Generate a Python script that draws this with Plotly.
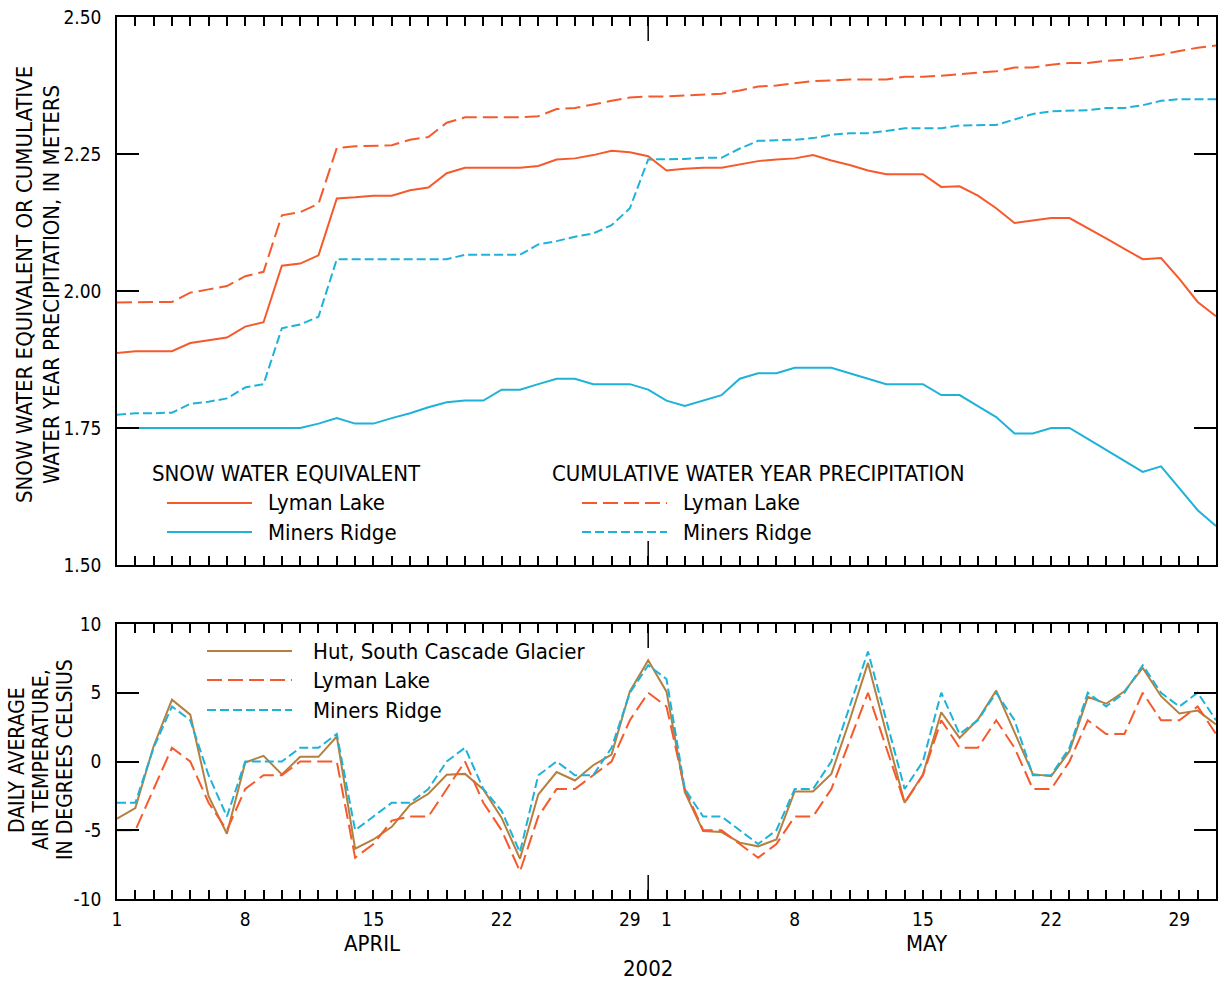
import plotly.graph_objects as go
import pandas as pd

# ---------------- data ----------------
dates = [d.strftime("%Y-%m-%d") for d in pd.date_range("2002-04-01", "2002-05-31", freq="D")]

swe_lyman = [1.887, 1.890, 1.890, 1.890, 1.905, 1.910, 1.915, 1.935, 1.943, 2.046,
             2.050, 2.065, 2.169, 2.171, 2.174, 2.174, 2.184, 2.189, 2.215, 2.225,
             2.225, 2.225, 2.225, 2.228, 2.240, 2.242, 2.248, 2.256, 2.253, 2.246,
             2.220, 2.223, 2.225, 2.225, 2.231, 2.237, 2.240, 2.242, 2.248, 2.238,
             2.230, 2.220, 2.213, 2.213, 2.213, 2.190, 2.191, 2.174, 2.151, 2.124,
             2.129, 2.133, 2.133, 2.115, 2.096, 2.077, 2.058, 2.060, 2.022, 1.980,
             1.954]
swe_miners = [1.75, 1.75, 1.75, 1.75, 1.75, 1.75, 1.75, 1.75, 1.75, 1.75,
              1.75, 1.758, 1.768, 1.758, 1.758, 1.768, 1.777, 1.788, 1.797, 1.80,
              1.80, 1.82, 1.82, 1.83, 1.84, 1.84, 1.83, 1.83, 1.83, 1.82,
              1.80, 1.79, 1.80, 1.81, 1.84, 1.85, 1.85, 1.86, 1.86, 1.86,
              1.85, 1.84, 1.83, 1.83, 1.83, 1.81, 1.81, 1.79, 1.77, 1.74,
              1.74, 1.75, 1.75, 1.73, 1.71, 1.69, 1.67, 1.68, 1.64, 1.60,
              1.571]
precip_lyman = [1.979, 1.980, 1.980, 1.980, 1.997, 2.003, 2.009, 2.027, 2.035, 2.138,
                2.144, 2.159, 2.261, 2.264, 2.265, 2.266, 2.276, 2.281, 2.307, 2.317,
                2.317, 2.317, 2.317, 2.319, 2.332, 2.334, 2.341, 2.347, 2.353, 2.355,
                2.355, 2.357, 2.359, 2.360, 2.366, 2.373, 2.375, 2.379, 2.383, 2.384,
                2.386, 2.386, 2.386, 2.391, 2.391, 2.393, 2.396, 2.398, 2.401, 2.408,
                2.408, 2.413, 2.416, 2.416, 2.420, 2.422, 2.426, 2.431, 2.438, 2.444,
                2.448]
precip_miners = [1.774, 1.777, 1.777, 1.778, 1.794, 1.798, 1.804, 1.824, 1.830, 1.932,
                 1.939, 1.953, 2.058, 2.058, 2.058, 2.058, 2.058, 2.058, 2.058, 2.066,
                 2.066, 2.066, 2.066, 2.085, 2.091, 2.099, 2.105, 2.120, 2.151, 2.240,
                 2.240, 2.241, 2.243, 2.243, 2.260, 2.274, 2.275, 2.276, 2.279, 2.285,
                 2.288, 2.288, 2.292, 2.297, 2.297, 2.297, 2.302, 2.303, 2.303, 2.313,
                 2.323, 2.328, 2.329, 2.330, 2.334, 2.334, 2.339, 2.347, 2.350, 2.350,
                 2.350]

temp_hut = [-4.16, -3.39, 1.11, 4.50, 3.41, -2.52, -5.25, -0.07, 0.41, -0.94,
            0.34, 0.34, 1.82, -6.34, -5.67, -4.75, -3.15, -2.35, -0.97, -0.90,
            -2.03, -4.1, -7.07, -2.4, -0.77, -1.38, -0.27, 0.5, 5.1, 7.36,
            5.08, -2.23, -5.06, -5.13, -5.9, -6.17, -5.67, -2.18, -2.18, -0.9,
            3.0, 7.17, 2.08, -3.0, -0.94, 3.58, 1.72, 3.05, 5.16, 2.08,
            -0.92, -1.07, 0.75, 4.7, 4.2, 5.1, 6.8, 4.75, 3.5, 3.7,
            2.7]
temp_lyman = [-5, -5, -2, 1, 0, -3, -5, -2, -1, -1,
              0, 0, 0, -7, -6, -4.3, -4, -4, -2, 0,
              -3, -5, -8, -4, -2, -2, -1, 0, 3, 5,
              4, -2, -5, -5, -6, -7, -6, -4, -4, -2,
              1.5, 5, 1, -3, -1, 3, 1, 1, 3, 1,
              -2, -2, 0, 3, 2, 2, 5, 3, 3, 4,
              2]
temp_miners = [-3, -3, 1, 4, 3, -1, -4, 0, 0, 0,
               1, 1, 2, -5, -4, -3, -3, -2, 0, 1,
               -2, -3.6, -6.6, -1, 0, -1, -1, 1, 5, 7,
               6, -2, -4, -4, -5, -6, -5, -2, -2, 0,
               4, 8, 3, -2, 0, 5, 2, 3, 5, 3,
               -1, -1, 1, 5, 4, 5, 7, 5, 4, 5,
               3]

tick_dates = ["2002-04-01", "2002-04-08", "2002-04-15", "2002-04-22", "2002-04-29",
              "2002-05-01", "2002-05-08", "2002-05-15", "2002-05-22", "2002-05-29"]
tick_text = ["1", "8", "15", "22", "29", "1", "8", "15", "22", "29"]
temp_ticks = [-10, -5, 0, 5, 10]
temp_tick_text = ["-10", "-5", "0", "5", "10"]

# ---------------- style ----------------
ORANGE = "#F55A2C"
CYAN = "#1FB2D8"
BROWN = "#B5803F"
FONT = "Liberation Sans Narrow, DejaVu Sans Condensed, Roboto, sans-serif"
W, H = 1225, 983
L, R, T, B = 117, 9, 17, 84
PW, PH = W - L - R, H - T - B
X0, Y1 = 117, 899  # plot-area left / bottom in page pixels


def px(x):
    return (x - X0) / PW


def py(y):
    return (Y1 - y) / PH


top_dom = [py(565), 1.0]
bot_dom = [0.0, py(624)]

fig = go.Figure()

# top panel
fig.add_trace(go.Scatter(x=dates, y=swe_lyman, mode="lines", line=dict(color=ORANGE, width=2),
                         xaxis="x", yaxis="y", name="SWE Lyman Lake"))
fig.add_trace(go.Scatter(x=dates, y=swe_miners, mode="lines", line=dict(color=CYAN, width=2),
                         xaxis="x", yaxis="y", name="SWE Miners Ridge"))
fig.add_trace(go.Scatter(x=dates, y=precip_lyman, mode="lines",
                         line=dict(color=ORANGE, width=2, dash="15px,6px"),
                         xaxis="x", yaxis="y", name="Precip Lyman Lake"))
fig.add_trace(go.Scatter(x=dates, y=precip_miners, mode="lines",
                         line=dict(color=CYAN, width=2, dash="9px,4px"),
                         xaxis="x", yaxis="y", name="Precip Miners Ridge"))

# bottom panel
fig.add_trace(go.Scatter(x=dates, y=temp_hut, mode="lines", line=dict(color=BROWN, width=2),
                         xaxis="x2", yaxis="y2", name="Hut, South Cascade Glacier"))
fig.add_trace(go.Scatter(x=dates, y=temp_lyman, mode="lines",
                         line=dict(color=ORANGE, width=2, dash="15px,6px"),
                         xaxis="x2", yaxis="y2", name="Lyman Lake"))
fig.add_trace(go.Scatter(x=dates, y=temp_miners, mode="lines",
                         line=dict(color=CYAN, width=2, dash="9px,4px"),
                         xaxis="x2", yaxis="y2", name="Miners Ridge"))

xcommon = dict(type="date", range=["2002-04-01", "2002-05-31"], showline=True, linecolor="black",
               linewidth=1.5, mirror="ticks", ticks="inside", ticklen=9, tickwidth=1.5,
               tickcolor="black", tickvals=tick_dates, ticktext=tick_text, showgrid=False,
               zeroline=False, automargin=False, ticklabeloverflow="allow",
               tickfont=dict(family=FONT, size=19, color="black"),
               minor=dict(ticks="inside", ticklen=9, tickwidth=1.5, tickcolor="black",
                          dtick=86400000, tick0="2002-04-01", showgrid=False))
ycommon = dict(showline=True, linecolor="black", linewidth=1.5, mirror="ticks",
               ticks="inside", ticklen=22, tickwidth=1.5, tickcolor="black", showgrid=False,
               zeroline=False, automargin=False, ticklabeloverflow="allow",
               tickfont=dict(family=FONT, size=19, color="black"),
               ticklabelstandoff=10)

fig.update_layout(
    width=W, height=H,
    margin=dict(l=L, r=R, t=T, b=B, autoexpand=False),
    paper_bgcolor="white", plot_bgcolor="white",
    showlegend=False,
    xaxis=dict(xcommon, domain=[0, 1], anchor="y", showticklabels=False),
    yaxis=dict(ycommon, domain=top_dom, anchor="x", range=[1.5, 2.5], dtick=0.25,
               tick0=1.5, tickformat=".2f"),
    xaxis2=dict(xcommon, domain=[0, 1], anchor="y2", matches="x", ticklabelstandoff=2),
    yaxis2=dict(ycommon, domain=bot_dom, anchor="x2", range=[-10, 10],
                tickvals=temp_ticks, ticktext=temp_tick_text),
)

# long tick marks at the month boundary
shapes = []
for xr, yr, frac in [("x", "y domain", 24 / 548), ("x2", "y2 domain", 24 / 275)]:
    shapes.append(dict(type="line", xref=xr, yref=yr, x0="2002-04-30", x1="2002-04-30",
                       y0=1, y1=1 - frac, line=dict(color="black", width=1.5)))
    shapes.append(dict(type="line", xref=xr, yref=yr, x0="2002-04-30", x1="2002-04-30",
                       y0=0, y1=frac, line=dict(color="black", width=1.5)))


# legend samples (manual legend)
def sample(x0, x1, y, color, dash):
    shapes.append(dict(type="line", xref="paper", yref="paper", x0=px(x0), x1=px(x1),
                       y0=py(y), y1=py(y), line=dict(color=color, width=2, dash=dash)))


sample(167, 252, 503, ORANGE, "solid")
sample(167, 252, 532, CYAN, "solid")
sample(582, 667, 503, ORANGE, "15px,6px")
sample(582, 667, 532, CYAN, "9px,4px")
sample(207, 292, 651, BROWN, "solid")
sample(207, 292, 680, ORANGE, "15px,6px")
sample(207, 292, 710, CYAN, "9px,4px")

annotations = []


def text(x, y, s, size=22, xanchor="left", angle=0):
    annotations.append(dict(x=px(x), y=py(y), xref="paper", yref="paper", text=s,
                            showarrow=False, xanchor=xanchor, yanchor="middle",
                            textangle=angle, font=dict(family=FONT, size=size, color="black")))


text(150, 473, "SNOW WATER EQUIVALENT")
text(266, 503, "Lyman Lake")
text(266, 532, "Miners Ridge")
text(550, 473, "CUMULATIVE WATER YEAR PRECIPITATION")
text(681, 503, "Lyman Lake")
text(681, 532, "Miners Ridge")
text(311, 651, "Hut, South Cascade Glacier")
text(311, 680, "Lyman Lake")
text(311, 710, "Miners Ridge")

# axis titles
text(25, 285, "SNOW WATER EQUIVALENT OR CUMULATIVE", xanchor="center", angle=-90)
text(52, 285, "WATER YEAR PRECIPITATION, IN METERS", xanchor="center", angle=-90)
text(17, 760, "DAILY AVERAGE", size=21, xanchor="center", angle=-90)
text(41, 760, "AIR TEMPERATURE,", size=21, xanchor="center", angle=-90)
text(65, 760, "IN DEGREES CELSIUS", size=21, xanchor="center", angle=-90)

# month / year labels
text(372, 943, "APRIL", xanchor="center")
text(927, 943, "MAY", xanchor="center")
text(648, 968, "2002", xanchor="center")

fig.update_layout(shapes=shapes, annotations=annotations)
fig.write_html("out.html",
               config={"displayModeBar": False},
               post_script="document.body.style.margin='0';document.body.style.overflow='hidden';")
